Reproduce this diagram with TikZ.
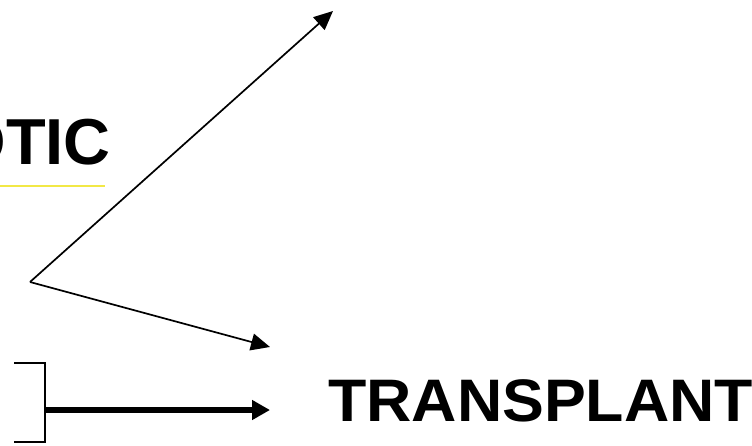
\documentclass[tikz,border=0pt]{standalone}
\usepackage{fontspec}
\setmainfont{Liberation Sans}
\usetikzlibrary{arrows.meta}
\definecolor{uline}{RGB}{242,232,70}
\tikzset{
  thinarrow/.style={line width=1.7pt,-{Triangle[length=19pt,width=17pt]}},
  thickarrow/.style={line width=6pt,-{Triangle[length=18pt,width=19pt]}},
  bracketline/.style={line width=1.6pt},
  bigword/.style={font=\bfseries\fontsize{65}{65}\selectfont,inner sep=0pt},
  midword/.style={font=\bfseries\fontsize{60}{60}\selectfont,inner sep=0pt}
}
\begin{document}
\begin{tikzpicture}[x=1pt,y=-1pt]
\useasboundingbox (0,0) rectangle (752,445);
\node[bigword,anchor=base east] (otic) at (111,164) {ANTIBIOTIC};
\draw[uline,line width=2.6pt] (-10,186) -- (105,186);
\coordinate (v) at (30,282);
\coordinate (t1) at (333,11);
\coordinate (t2) at (270,347);
\draw[thinarrow] (v) -- (t1);
\draw[thinarrow] (v) -- (t2);
\coordinate (bt) at (45,363);
\coordinate (bb) at (45,442);
\coordinate (bm) at (45,410);
\draw[bracketline] (14,363) -- (bt) -- (bb) -- (14,442);
\node[midword,anchor=base west] (tr) at (328,421) {\scalebox{1.045}[1]{TRANSPLANT}};
\draw[thickarrow] (bm) -- (270,410);
\end{tikzpicture}
\end{document}
